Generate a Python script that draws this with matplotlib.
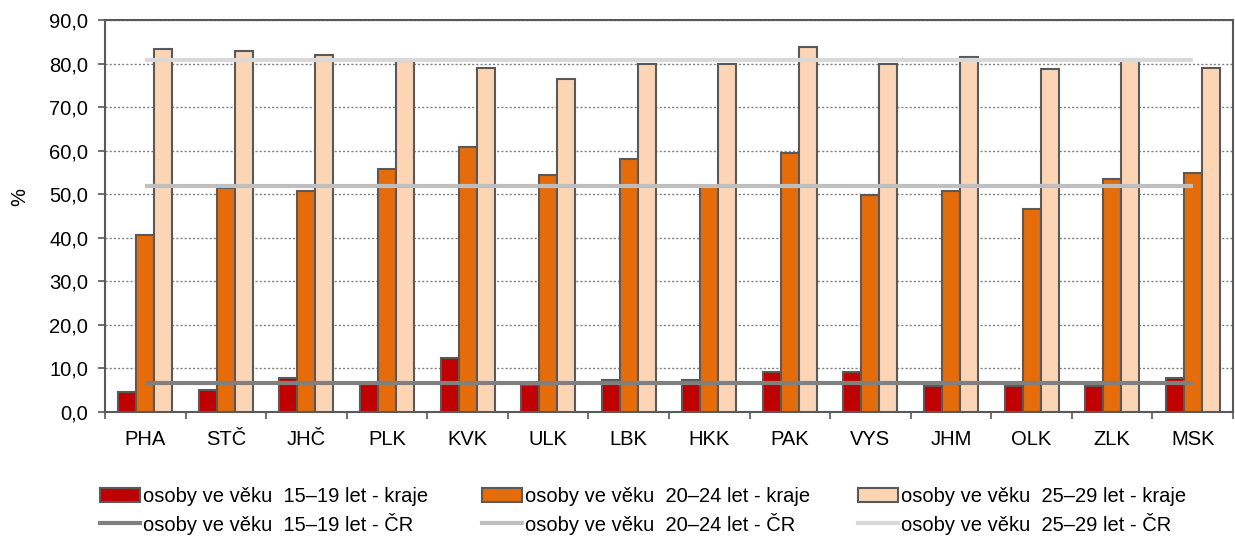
import matplotlib.pyplot as plt
import numpy as np
from matplotlib.patches import Patch
from matplotlib.lines import Line2D

plt.rcParams['font.family'] = ['Liberation Sans', 'DejaVu Sans']

regions = ['PHA', 'STČ', 'JHČ', 'PLK', 'KVK', 'ULK', 'LBK', 'HKK', 'PAK', 'VYS', 'JHM', 'OLK', 'ZLK', 'MSK']
kraje_15_19 = [4.6, 5.1, 7.8, 6.4, 12.3, 6.3, 7.4, 7.4, 9.2, 9.2, 6.0, 6.0, 6.0, 7.8]
kraje_20_24 = [40.6, 51.4, 50.7, 55.8, 60.8, 54.4, 58.1, 52.0, 59.4, 49.8, 50.8, 46.6, 53.5, 54.9]
kraje_25_29 = [83.3, 82.9, 82.0, 80.6, 79.0, 76.4, 80.0, 80.0, 83.7, 80.0, 81.4, 78.7, 81.0, 79.0]
cr_15_19 = 6.6
cr_20_24 = 51.9
cr_25_29 = 80.8

labels_bar = ['osoby ve věku  15–19 let - kraje', 'osoby ve věku  20–24 let - kraje', 'osoby ve věku  25–29 let - kraje']
labels_line = ['osoby ve věku  15–19 let - ČR', 'osoby ve věku  20–24 let - ČR', 'osoby ve věku  25–29 let - ČR']

bar_colors = ['#C00000', '#E46C0A', '#FCD5B5']
line_colors = ['#808080', '#BFBFBF', '#D9D9D9']
edge = '#595959'

fig = plt.figure(figsize=(12.35, 5.4), dpi=100)
ax = fig.add_axes([105/1235, 1-412/540, (1233-105)/1235, (412-20)/540])

x = np.arange(len(regions))
w = 0.223
for i, vals in enumerate([kraje_15_19, kraje_20_24, kraje_25_29]):
    ax.bar(x + (i-1)*w, vals, w, color=bar_colors[i], edgecolor=edge, linewidth=1.5, zorder=3)

for val, c in zip([cr_15_19, cr_20_24, cr_25_29], line_colors):
    ax.plot([x[0], x[-1]], [val, val], color=c, linewidth=3, zorder=4, solid_capstyle='butt')

ax.set_xlim(-0.5, len(regions)-0.5)
ax.set_ylim(0, 90)
ax.set_yticks(np.arange(0, 91, 10))
ax.set_yticklabels([f'{v:.1f}'.replace('.', ',') for v in np.arange(0, 91, 10)], fontsize=14.5)
ax.set_xticks(x)
ax.set_xticklabels(regions, fontsize=14.5)
ax.set_xticks(np.arange(-0.5, len(regions), 1), minor=True)
ax.tick_params(axis='x', which='major', length=0, pad=13)
ax.tick_params(axis='x', which='minor', length=5, color=edge, width=1.2)
ax.tick_params(axis='y', length=5, color=edge, width=1.2, pad=7)
ax.yaxis.grid(True, linestyle=(0, (1.5, 1.5)), color='#808080', linewidth=1, zorder=0)
ax.set_axisbelow(True)
for s in ax.spines.values():
    s.set_color(edge)
    s.set_linewidth(1.5)
fig.text(20/1235, 1-197/540, '%', rotation=90, fontsize=14.5, ha='center', va='center')

# three legend columns placed like the reference
col_x = [100, 482, 858]
for i in range(3):
    h = [Patch(facecolor=bar_colors[i], edgecolor=edge, linewidth=1.5, label=labels_bar[i]),
         Line2D([], [], color=line_colors[i], linewidth=3, label=labels_line[i])]
    leg = fig.legend(handles=h, loc='center left', bbox_to_anchor=(col_x[i]/1235, 1-511/540),
                     frameon=False, fontsize=14.5, handlelength=2.0, handletextpad=0.15,
                     labelspacing=0.3, borderpad=0, borderaxespad=0)

fig.savefig('out.png', dpi=100)
